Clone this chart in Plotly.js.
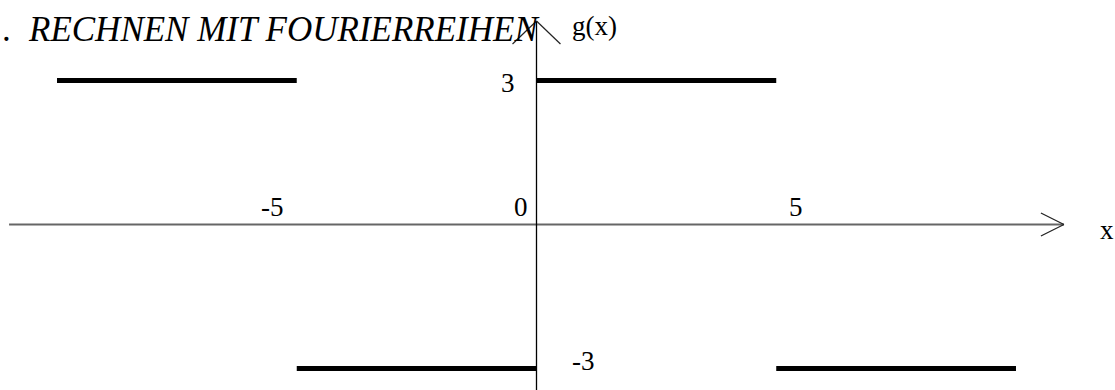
<!DOCTYPE html>
<html>
<head>
<meta charset="utf-8">
<script src="https://cdn.plot.ly/plotly-3.0.1.min.js"></script>
<style>
  html, body { margin: 0; padding: 0; background: #fff; }
  #chart { width: 1115px; height: 390px; }
</style>
</head>
<body>
<div id="chart"></div>
<script>
// Rectangular wave g(x), period 10, amplitude 3
const segStart = [-10, -5, 0, 5];
const segEnd   = [-5, 0, 5, 10];
const segValue = [3, -3, 3, -3];

// Axis tick labels
const xTickValues = [-5, 0, 5];
const xTickLabels = ['-5', '0', '5'];
const yTickValues = [3, -3];
const yTickLabels = ['3', '-3'];

// Axis extents (arrow tips) in data units
const xAxisFrom = -11, xAxisTo = 11;
const yAxisFrom = -3.6, yAxisTo = 4.24;

const headerDot = '.';
const headerText = 'RECHNEN MIT FOURIERREIHEN';
const xName = 'x';
const yName = 'g(x)';

const serif = '"Liberation Serif", "Times New Roman", serif';

// One trace per plateau of the wave
const traces = segStart.map((s, i) => ({
  type: 'scatter',
  mode: 'lines',
  x: [s, segEnd[i]],
  y: [segValue[i], segValue[i]],
  line: { color: '#000', width: 5 },
  hoverinfo: 'skip',
  showlegend: false
}));

// Axes with open chevron arrowheads
const shapes = [
  { type: 'line', xref: 'x', yref: 'y', x0: xAxisFrom, x1: xAxisTo, y0: 0, y1: 0,
    line: { color: '#666', width: 2.2 } },
  { type: 'line', xref: 'x', yref: 'y', x0: xAxisTo - 0.48, x1: xAxisTo, y0: 0.24, y1: 0,
    line: { color: '#222', width: 1.2 } },
  { type: 'line', xref: 'x', yref: 'y', x0: xAxisTo - 0.48, x1: xAxisTo, y0: -0.24, y1: 0,
    line: { color: '#222', width: 1.2 } },
  { type: 'line', xref: 'x', yref: 'y', x0: 0, x1: 0, y0: yAxisFrom, y1: yAxisTo,
    line: { color: '#000', width: 1.3 } },
  { type: 'line', xref: 'x', yref: 'y', x0: -0.5, x1: 0, y0: yAxisTo - 0.48, y1: yAxisTo,
    line: { color: '#222', width: 1.2 } },
  { type: 'line', xref: 'x', yref: 'y', x0: 0.5, x1: 0, y0: yAxisTo - 0.48, y1: yAxisTo,
    line: { color: '#222', width: 1.2 } }
];

const labelFont = { family: serif, size: 27, color: '#000' };

// Horizontal-axis labels sit above the axis, each with its own offset
const xLabelShift = [-24, -16, 20];
const annotations = xTickValues.map((v, i) => ({
  x: v, y: 0, xref: 'x', yref: 'y', text: xTickLabels[i], showarrow: false,
  xanchor: 'center', yanchor: 'middle', xshift: xLabelShift[i], yshift: 18,
  font: labelFont
}));

// Vertical-axis labels
const yLabelShift = [[-29, -2], [47, 8]];
yTickValues.forEach((v, i) => {
  annotations.push({
    x: 0, y: v, xref: 'x', yref: 'y', text: yTickLabels[i], showarrow: false,
    xanchor: 'center', yanchor: 'middle',
    xshift: yLabelShift[i][0], yshift: yLabelShift[i][1], font: labelFont
  });
});

// Axis names
annotations.push({
  x: 0, y: yAxisTo, xref: 'x', yref: 'y', text: yName, showarrow: false,
  xanchor: 'center', yanchor: 'middle', xshift: 58, yshift: -5, font: labelFont
});
annotations.push({
  x: xAxisTo, y: 0, xref: 'x', yref: 'y', text: xName, showarrow: false,
  xanchor: 'center', yanchor: 'middle', xshift: 43, yshift: -5, font: labelFont
});

// Running page header: leading dot, then the italic chapter title
const headerFont = { family: serif, size: 35, color: '#000' };
annotations.push({
  x: 0, y: 1, xref: 'paper', yref: 'paper', text: headerDot, showarrow: false,
  xanchor: 'left', yanchor: 'top', xshift: 0, yshift: -8, font: headerFont
});
annotations.push({
  x: 0, y: 1, xref: 'paper', yref: 'paper', text: '<i>' + headerText + '</i>', showarrow: false,
  xanchor: 'left', yanchor: 'top', xshift: 26, yshift: -8, font: headerFont
});

const layout = {
  width: 1115,
  height: 390,
  margin: { l: 0, r: 0, t: 0, b: 0, pad: 0 },
  paper_bgcolor: '#fff',
  plot_bgcolor: '#fff',
  showlegend: false,
  xaxis: { range: [-11.189, 12.065], visible: false, fixedrange: true },
  yaxis: { range: [-3.448, 4.677], visible: false, fixedrange: true },
  shapes: shapes,
  annotations: annotations
};

Plotly.newPlot('chart', traces, layout, { displayModeBar: false, staticPlot: true });
</script>
</body>
</html>
